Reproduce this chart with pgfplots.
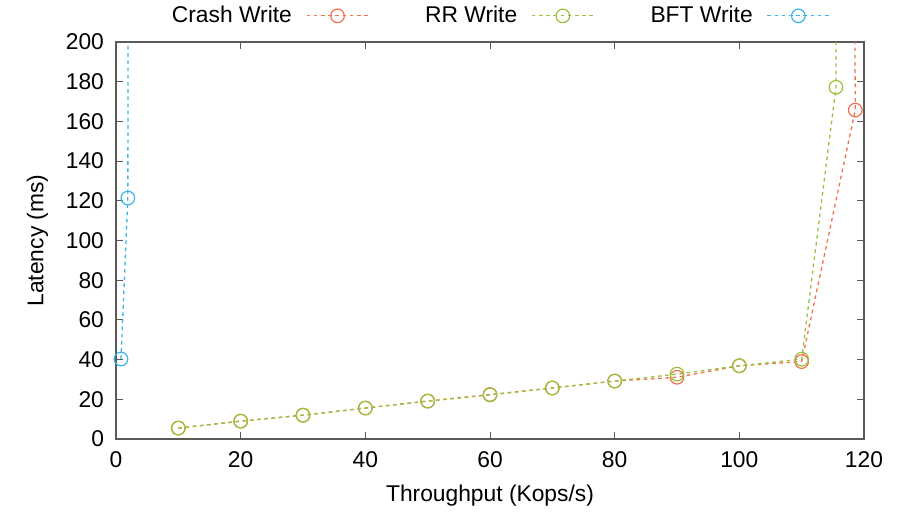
\documentclass[border=0pt]{standalone}
\usepackage{fontspec}
\setmainfont{Liberation Sans}
\usepackage{pgfplots}
\pgfplotsset{compat=1.18}
\definecolor{crash}{HTML}{F2714E}
\definecolor{rr}{HTML}{9AC23C}
\definecolor{bft}{HTML}{3AB4EA}

\begin{document}
\begin{tikzpicture}
\begin{axis}[
    at={(0,0)}, anchor=south west,
    scale only axis,
    width=374pt, height=198.5pt,
    xmin=0, xmax=120, ymin=0, ymax=200,
    xtick={0,20,...,120}, ytick={0,20,...,200},
    tick align=inside, major tick length=3.5pt,
    axis line style={black!65, line width=0.7pt},
    tick style={black!65, line width=0.5pt},
    font=\fontsize{11.4}{13}\selectfont,
    /pgf/number format/assume math mode=true,
    xticklabel style={yshift=-2.5pt}, yticklabel style={xshift=-2.5pt},
    xlabel={Throughput (Kops/s)}, ylabel={Latency (ms)},
    xlabel style={yshift=-2pt}, ylabel style={yshift=2pt},
    clip=true,
    every axis plot/.append style={dash pattern=on 1.8pt off 1.8pt, line width=0.65pt, mark=o,
        mark size=3.4pt, mark options={solid, line width=0.6pt}},
    legend columns=3,
    legend plot pos=right,
    legend style={draw=none, fill=none, at={(0.512,1)}, anchor=south,
        yshift=4pt, /tikz/every even column/.append style={column sep=26pt}},
    legend image code/.code={\path (0pt,0pt);
        \draw[mark repeat=2, mark phase=2]
        plot coordinates {(5pt,0pt) (20.5pt,0pt) (36pt,0pt)};},
]
\addplot[crash] coordinates {
    (10,5.5) (20,9) (30,12) (40,15.6) (50,19.1) (60,22.4) (70,25.7)
    (80,29.2) (90,31.1) (100,36.9) (110,39) (118.6,165.7) (118.2,400)
};
\addlegendentry{Crash Write}
\addplot[rr] coordinates {
    (10,5.5) (20,9) (30,12) (40,15.6) (50,19.1) (60,22.2) (70,25.7)
    (80,29.2) (90,32.7) (100,36.9) (110,40.2) (115.5,177.2) (115.6,400)
};
\addlegendentry{RR Write}
\addplot[bft] coordinates {
    (0.8,40.3) (1.9,121.4) (2.0,400)
};
\addlegendentry{BFT Write}
\end{axis}
\pgfresetboundingbox
\path[use as bounding box] (-58pt,-36pt) rectangle (393.5pt,219.5pt);
\end{tikzpicture}
\end{document}
